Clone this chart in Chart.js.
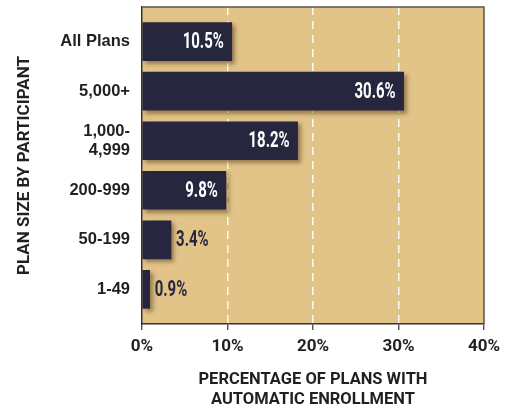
<!DOCTYPE html>
<html lang="en">
<head>
  <meta charset="UTF-8">
  <title>Automatic Enrollment by Plan Size</title>
  <script src="https://cdn.jsdelivr.net/npm/chart.js"></script>
  <style>
    body { margin: 0; background: #fff; }
    .chart-container { position: relative; width: 513px; height: 410px; }
  </style>
</head>
<body>
  <div class="chart-container">
    <canvas id="enrollChart"></canvas>
  </div>

  <script>
    // chart data
    const categories = ['All Plans', '5,000+', ['1,000-', '4,999'], '200-999', '50-199', '1-49'];
    const values = [10.5, 30.6, 18.2, 9.8, 3.4, 0.9];
    const xTicks = [0, 10, 20, 30, 40];

    const navy = '#27263f';
    const tan = '#e2c489';
    const ink = '#231f20';
    const face = "Roboto, 'Liberation Sans', sans-serif";

    // tan plot background + drop shadow on bars + value labels + frame
    const decor = {
      id: 'decor',
      beforeDraw(chart) {
        const {ctx, chartArea: a} = chart;
        ctx.save();
        ctx.fillStyle = tan;
        ctx.fillRect(a.left, a.top, a.right - a.left, a.bottom - a.top);
        ctx.restore();
      },
      beforeDatasetsDraw(chart) {
        const ctx = chart.ctx;
        ctx.save();
        ctx.shadowColor = 'rgba(80, 55, 20, 0.5)';
        ctx.shadowOffsetX = 3;
        ctx.shadowOffsetY = 3;
        ctx.shadowBlur = 4;
      },
      afterDatasetsDraw(chart) {
        const {ctx, chartArea: a} = chart;
        ctx.restore();

        // frame top / right
        ctx.save();
        ctx.strokeStyle = '#5b5548';
        ctx.lineWidth = 1.5;
        ctx.beginPath();
        ctx.moveTo(a.left, a.top);
        ctx.lineTo(a.right, a.top);
        ctx.lineTo(a.right, a.bottom);
        ctx.stroke();
        ctx.restore();

        // value labels, squeezed to look condensed
        const meta = chart.getDatasetMeta(0);
        meta.data.forEach((bar, i) => {
          const v = values[i];
          const txt = v.toFixed(1) + '%';
          const inside = v >= 5;
          ctx.save();
          ctx.font = 'bold 22px ' + face;
          ctx.textBaseline = 'middle';
          ctx.textAlign = inside ? 'right' : 'left';
          ctx.fillStyle = inside ? '#fff' : navy;
          ctx.translate(inside ? bar.x - 8 : bar.x + 5, bar.y + 1);
          ctx.scale(0.68, 1);
          ctx.fillText(txt, 0, 0);
          ctx.restore();
        });
      }
    };

    const ctx = document.getElementById('enrollChart').getContext('2d');
    new Chart(ctx, {
      type: 'bar',
      data: {
        datasets: [{
          data: values.map((v, i) => ({x: v, y: i})),
          backgroundColor: navy,
          borderWidth: 0,
          barThickness: 38
        }]
      },
      options: {
        indexAxis: 'y',
        responsive: true,
        maintainAspectRatio: false,
        animation: false,
        layout: { padding: {top: 7, right: 29, bottom: 0, left: 0} },
        plugins: { legend: { display: false }, tooltip: { enabled: false } },
        scales: {
          x: {
            type: 'linear',
            min: 0,
            max: 40,
            afterFit(scale) { scale.height = 86; },
            afterBuildTicks(scale) { scale.ticks = xTicks.map(v => ({value: v})); },
            ticks: {
              callback: v => v + '%',
              color: ink,
              padding: 7,
              font: { family: face, weight: 'bold', size: 17 }
            },
            grid: {
              color: c => (c.tick && c.tick.value > 0 && c.tick.value < 40) ? 'rgba(255,255,255,0.9)' : 'rgba(0,0,0,0)',
              lineWidth: 1.5,
              tickColor: '#3a342c',
              tickLength: 6,
              tickWidth: 1.2
            },
            border: { display: true, color: '#3a342c', width: 1.5, dash: [8, 6] },
            title: {
              display: true,
              text: ['PERCENTAGE OF PLANS WITH', 'AUTOMATIC ENROLLMENT'],
              color: ink,
              padding: {top: 0, bottom: 0},
              font: { family: face, weight: 'bold', size: 16.5, lineHeight: 1.2 }
            }
          },
          y: {
            type: 'linear',
            offset: false,
            bounds: 'data',
            reverse: true,
            min: -0.7,
            max: 5.7,
            afterFit(scale) {
              scale.width = 142;
              // labels sit well inside the range, no edge padding needed
              scale.paddingTop = 0;
              scale.paddingBottom = 0;
            },
            afterBuildTicks(scale) { scale.ticks = categories.map((c, i) => ({value: i})); },
            ticks: {
              callback: v => categories[v],
              color: ink,
              padding: 12,
              font: { family: "'Liberation Sans', Arial, sans-serif", weight: 'bold', size: 16.5, lineHeight: 1.15 }
            },
            grid: { display: false, drawTicks: false },
            border: { display: true, color: '#3a342c', width: 1.5 },
            title: {
              display: true,
              text: 'PLAN SIZE BY PARTICIPANT',
              color: ink,
              padding: {top: 15, bottom: 0},
              font: { family: face, weight: 'bold', size: 17, lineHeight: 1.2 }
            }
          }
        }
      },
      plugins: [decor]
    });
  </script>
</body>
</html>
